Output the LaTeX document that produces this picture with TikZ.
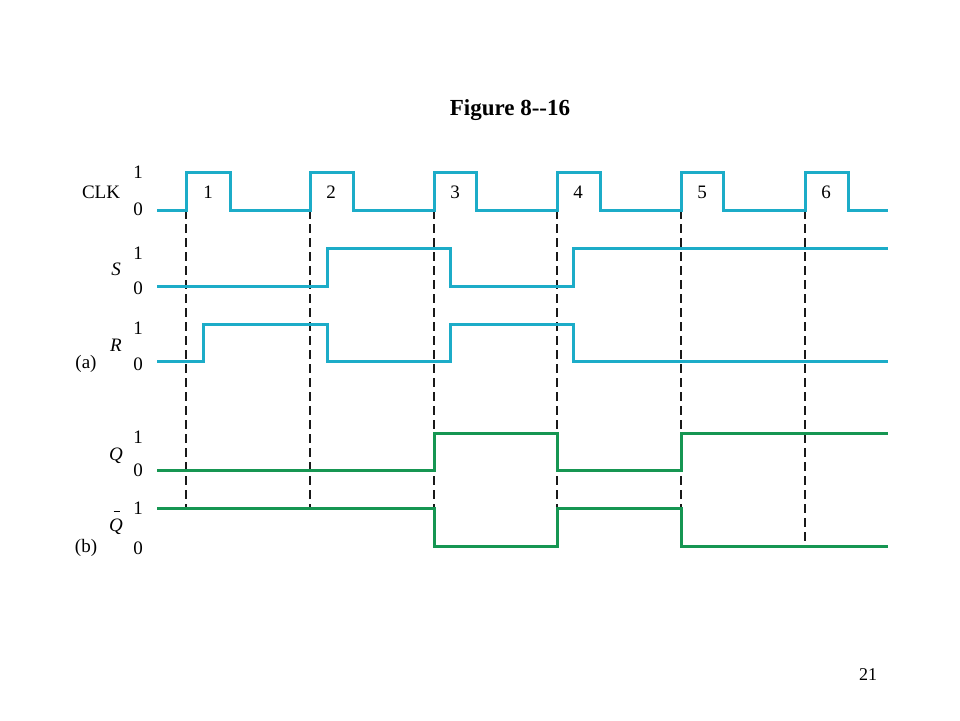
\documentclass[tikz,border=0pt]{standalone}
\usepackage{fontspec}
\setmainfont{Liberation Serif}
\definecolor{wcyan}{RGB}{28,172,200}
\definecolor{wgreen}{RGB}{22,150,82}
\begin{document}
\begin{tikzpicture}[x=1pt,y=-1pt,
  wave/.style={line width=3pt,line join=miter},
  cyanwave/.style={wave,wcyan},
  greenwave/.style={wave,wgreen},
  guide/.style={line width=1.3pt,dash pattern=on 9pt off 5pt,black!90},
  lbl/.style={font=\fontsize{19}{22}\selectfont,inner sep=0pt},
  num/.style={font=\fontsize{19}{22}\selectfont,inner sep=0pt}]
\useasboundingbox (0,0) rectangle (960,720);
% title and page number
\node[lbl,font=\fontsize{23}{26}\selectfont\bfseries] (title) at (510,110) {Figure 8-{}-16};
\node[lbl,font=\fontsize{18}{20}\selectfont] (page) at (868,675) {21};
% dashed guides
\foreach \x/\y in {186/508,310/508,434/508,557/508,681/508,805/546}
  \draw[guide] (\x,210) -- (\x,\y);
% CLK
\draw[cyanwave] (157,210) -- (186,210) -- (186,172) -- (230,172) -- (230,210)
  -- (310,210) -- (310,172) -- (353,172) -- (353,210)
  -- (434,210) -- (434,172) -- (476,172) -- (476,210)
  -- (557,210) -- (557,172) -- (600,172) -- (600,210)
  -- (681,210) -- (681,172) -- (723,172) -- (723,210)
  -- (805,210) -- (805,172) -- (848,172) -- (848,210) -- (888,210);
% S
\draw[cyanwave] (157,286) -- (327,286) -- (327,248) -- (450,248) -- (450,286)
  -- (573,286) -- (573,248) -- (888,248);
% R
\draw[cyanwave] (157,361) -- (203,361) -- (203,324) -- (327,324) -- (327,361)
  -- (450,361) -- (450,324) -- (573,324) -- (573,361) -- (888,361);
% Q
\draw[greenwave] (157,470) -- (434,470) -- (434,433) -- (557,433) -- (557,470)
  -- (681,470) -- (681,433) -- (888,433);
% Qbar
\draw[greenwave] (157,508) -- (434,508) -- (434,546) -- (557,546) -- (557,508)
  -- (681,508) -- (681,546) -- (888,546);
% pulse numbers
\foreach \n/\x in {1/208,2/331,3/455,4/578,5/702,6/826}
  \node[num] (p\n) at (\x,192) {\n};
% level labels
\foreach \name/\y in {c1/172,s1/253,r1/328,q1/437,qb1/508}
  \node[lbl] (\name) at (138,\y) {1};
\foreach \name/\y in {c0/209,s0/288,r0/364,q0/470,qb0/548}
  \node[lbl] (\name) at (138,\y) {0};
% signal names
\node[lbl] (clk) at (101,192) {CLK};
\node[lbl] (s) at (116,269) {\textit{S}};
\node[lbl] (r) at (116,345) {\textit{R}};
\node[lbl] (a) at (86,364) {(a)};
\node[lbl] (q) at (116,456) {\textit{Q}};
\node[lbl] (qb) at (116,527) {\textit{Q}};
\coordinate (qbl) at (113.5,511);
\coordinate (qbr) at (120,511);
\draw[line width=1pt,black] (qbl) -- (qbr);
\node[lbl] (b) at (86,548) {(b)};
\end{tikzpicture}
\end{document}
